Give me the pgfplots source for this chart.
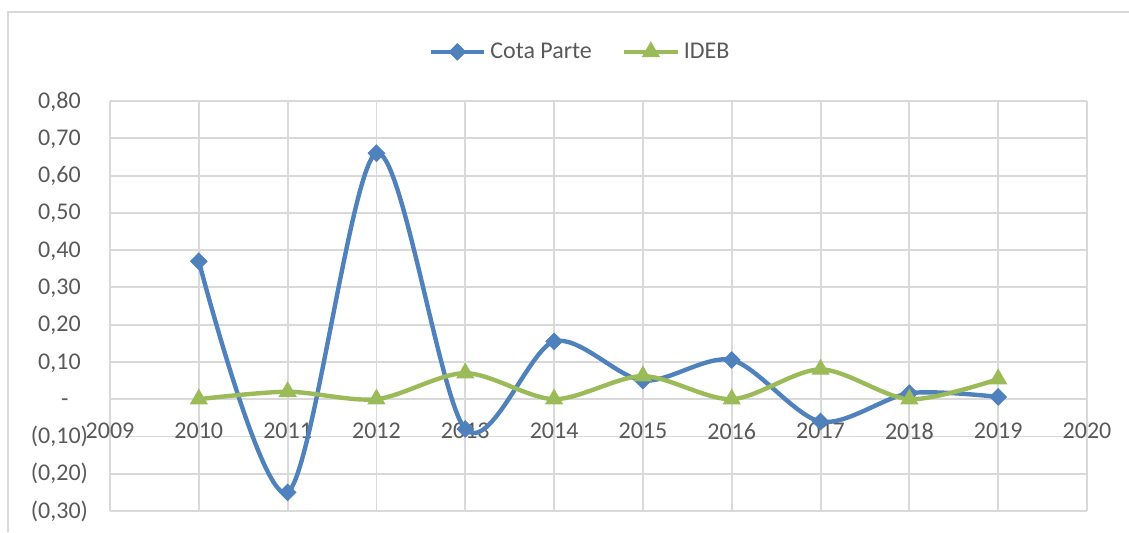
\documentclass[border=0pt]{standalone}
\usepackage{pgfplots}
\pgfplotsset{compat=1.18}
\usepackage{fontspec}
\setmainfont{Carlito}
\definecolor{cblue}{HTML}{4F81BD}
\definecolor{cgreen}{HTML}{9BBB59}
\definecolor{ctext}{HTML}{595959}
\definecolor{cgrid}{HTML}{D9D9D9}
\begin{document}
\begin{tikzpicture}
\useasboundingbox (-55pt,-10.5pt) rectangle (509.5pt,255.5pt);
\draw[cgrid, line width=0.9pt] (-51pt,-10.5pt) -- (-51pt,249.5pt) -- (509.5pt,249.5pt);
\begin{axis}[
  at={(0,0)}, anchor=south west,
  scale only axis, width=488.5pt, height=205pt,
  xmin=2009, xmax=2020, ymin=-0.3, ymax=0.8,
  enlargelimits=false,
  axis x line=middle, axis y line=left, axis line style={draw=none},
  hide obscured x ticks=false, hide obscured y ticks=false,
  xtick={2009,2010,2011,2012,2013,2014,2015,2016,2017,2018,2019,2020},
  xticklabels={2009,2010,2011,2012,2013,2014,2015,2016,2017,2018,2019,2020},
  ytick={-0.3,-0.2,-0.1,0,0.1,0.2,0.3,0.4,0.5,0.6,0.7,0.8},
  yticklabels={(0{,}30),(0{,}20),(0{,}10),-\phantom{0)},0{,}10\phantom{)},0{,}20\phantom{)},0{,}30\phantom{)},0{,}40\phantom{)},0{,}50\phantom{)},0{,}60\phantom{)},0{,}70\phantom{)},0{,}80\phantom{)}},
  major tick length=0pt,
  grid=major, grid style={cgrid, line width=0.95pt},
  tick label style={font=\fontsize{12}{14}\selectfont, text=ctext},
  xticklabel style={anchor=north, yshift=-8.5pt},
  yticklabel style={anchor=east, xshift=-7.5pt},
  clip=false,
  legend style={at={(0.482,1.12)}, anchor=center, draw=none, fill=none,
    font=\fontsize{12}{14}\selectfont, text=ctext,
    legend columns=-1, /tikz/every even column/.append style={column sep=13pt}},
  legend image code/.code={\draw[mark repeat=2,mark phase=2,#1] plot coordinates {(0cm,0cm)(0.47cm,0cm)(0.94cm,0cm)};},
]
\addplot[cblue, line width=2.2pt, smooth, tension=0.5, mark=square*, mark size=2.9pt, mark options={rotate=45, solid, fill=cblue, draw=cblue, line width=0.5pt}]
  coordinates {(2010,0.37)(2011,-0.25)(2012,0.66)(2013,-0.08)(2014,0.155)(2015,0.05)(2016,0.105)(2017,-0.06)(2018,0.016)(2019,0.006)};
\addlegendentry{Cota Parte}
\addplot[cgreen, line width=2.2pt, smooth, tension=0.5, mark=triangle*, mark size=4.8pt, mark options={solid, fill=cgreen, draw=cgreen, line width=0.5pt}]
  coordinates {(2010,0)(2011,0.02)(2012,0)(2013,0.07)(2014,0)(2015,0.062)(2016,0)(2017,0.08)(2018,0)(2019,0.054)};
\addlegendentry{IDEB}
\end{axis}
\end{tikzpicture}
\end{document}
